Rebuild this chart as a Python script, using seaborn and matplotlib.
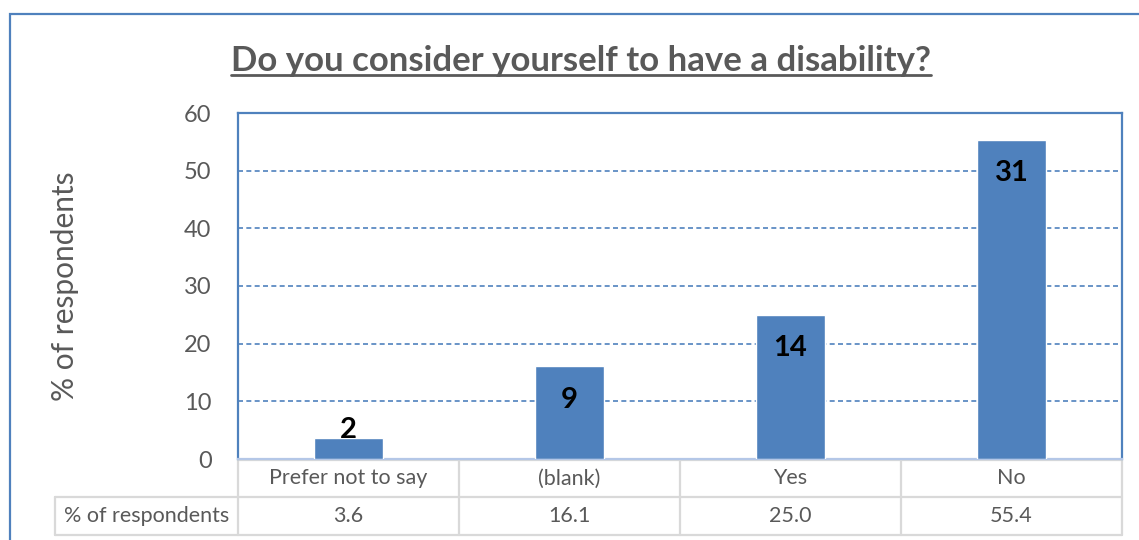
import matplotlib
matplotlib.use("Agg")
import matplotlib.pyplot as plt
import matplotlib.transforms as mtransforms
from matplotlib.lines import Line2D
from matplotlib.patches import Rectangle
import seaborn as sns
import pandas as pd

categories = ["Prefer not to say", "(blank)", "Yes", "No"]
percent = [3.6, 16.1, 25.0, 55.4]
counts = [2, 9, 14, 31]
row_label = "% of respondents"
title = "Do you consider yourself to have a disability?"

sns.set_theme(style="white")
plt.rcParams["font.family"] = ["Lato", "DejaVu Sans"]

GRAY = "#595959"
BLUE = "#4F81BD"
LINE = "#D9D9D9"

fig = plt.figure(figsize=(11.39, 5.40), dpi=100)
W, H = 1139, 540
ax = fig.add_axes([238 / W, 1 - 459 / H, 884 / W, 346 / H])

df = pd.DataFrame({"cat": categories, "pct": percent})
sns.barplot(data=df, x="cat", y="pct", color=BLUE, saturation=1, width=0.316, ax=ax, zorder=3)
ax.set_xlim(-0.5, len(categories) - 0.5)
ax.set_ylim(0, 60)
ax.set_yticks(range(0, 61, 10))
ax.tick_params(axis="y", labelsize=17, labelcolor=GRAY, length=0, pad=19)
ax.set_xticks([])
ax.set_xlabel("")
ax.set_ylabel(row_label, fontsize=21.5, color=GRAY, va="center")
ax.yaxis.set_label_coords((65 - 238) / 884.0, 0.5)
for y in range(10, 60, 10):
    ax.axhline(y, color=BLUE, lw=1.2, ls=(0, (3, 2)), zorder=1)
for s in ["left", "top", "right"]:
    ax.spines[s].set_color(BLUE)
    ax.spines[s].set_linewidth(1.6)
ax.spines["bottom"].set_color("#B4C7E7")
ax.spines["bottom"].set_linewidth(1.6)

# data labels
for i, (v, c) in enumerate(zip(percent, counts)):
    lab_y = v - 5.8
    if lab_y < 5.5:
        ax.text(i, v, str(c), ha="center", va="baseline", fontsize=21, fontweight="bold", color="black", zorder=4)
    else:
        ax.text(i, lab_y, str(c), ha="center", va="center", fontsize=21, fontweight="bold", color="black", zorder=4)

# data table beneath
tr = mtransforms.blended_transform_factory(ax.transData, ax.transAxes)
px = 1 / 346.0
y0 = -1 * px
y1 = -38 * px
y2 = -76 * px
left_ax = (55 - 238) / 884.0
n = len(categories)
lk = dict(color=LINE, lw=1.6, clip_on=False, zorder=0)
ax.plot([-0.5, n - 0.5], [y0, y0], transform=tr, **lk)
ax.plot([left_ax, 1], [y1, y1], transform=ax.transAxes, **lk)
ax.plot([left_ax, 1], [y2, y2], transform=ax.transAxes, **lk)
ax.plot([left_ax, left_ax], [y1, y2], transform=ax.transAxes, **lk)
for k in range(n + 1):
    ax.plot([k - 0.5, k - 0.5], [y0, y2], transform=tr, **lk)
for i, (c, v) in enumerate(zip(categories, percent)):
    ax.text(i, (y0 + y1) / 2, c, transform=tr, ha="center", va="center", fontsize=15.5, color=GRAY)
    ax.text(i, (y1 + y2) / 2, f"{v:.1f}", transform=tr, ha="center", va="center", fontsize=15.5, color=GRAY)
ax.text((left_ax + 0) / 2, (y1 + y2) / 2, row_label, transform=ax.transAxes, ha="center", va="center",
        fontsize=15.5, color=GRAY)

# title with underline
t = fig.text(581 / W, 1 - 61 / H, title, ha="center", va="center", fontsize=25, fontweight="bold", color=GRAY)
fig.canvas.draw()
bb = t.get_window_extent(fig.canvas.get_renderer())
uy = bb.y0 + 2
fig.add_artist(Line2D([bb.x0 / W, bb.x1 / W], [uy / H, uy / H], transform=fig.transFigure, color=GRAY, lw=2.0))

# outer chart border
fig.add_artist(Rectangle((10 / W, -0.1), 1.2, 1.1 - 14 / H, transform=fig.transFigure,
                         fill=False, edgecolor=BLUE, lw=1.6))

fig.savefig("out.png", dpi=100)
